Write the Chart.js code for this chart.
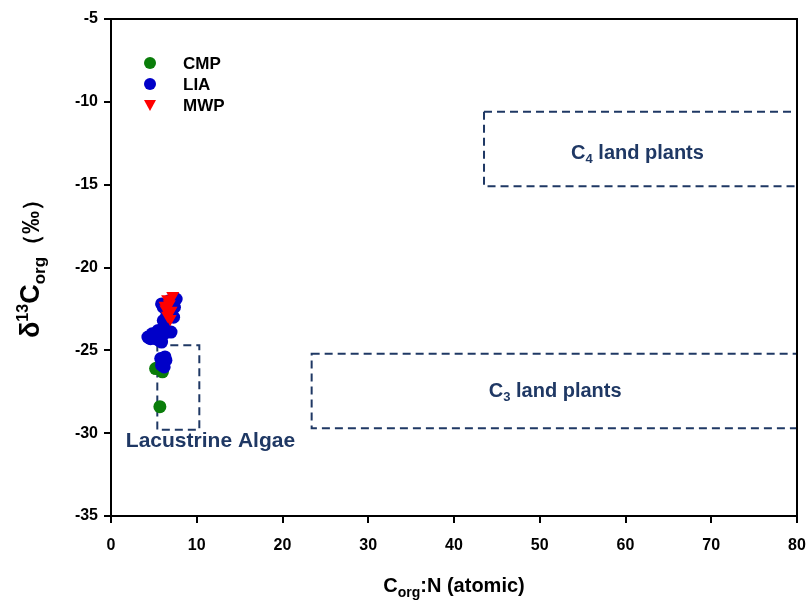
<!DOCTYPE html>
<html lang="en">
<head>
  <meta charset="UTF-8">
  <title>d13C vs C/N</title>
  <script src="https://cdn.jsdelivr.net/npm/chart.js"></script>
  <style>
    html, body { margin: 0; padding: 0; background: #fff; }
    .quadro { width: 808px; height: 603px; }
  </style>
</head>
<body>
  <div class="quadro">
    <canvas id="graficoCN" width="808" height="603"></canvas>
  </div>

  <script>
    // dados: [C/N, d13C]
    const cmp = [[5.7, -28.4], [5.2, -26.1], [6.0, -26.3], [5.6, -26.0]];
    const lia = [
      [5.8, -25.5], [6.4, -25.6], [6.2, -26.0], [5.9, -25.9], [6.3, -25.4],
      [4.3, -24.2], [4.8, -24.0], [5.2, -24.3], [5.6, -24.4], [6.0, -24.1],
      [6.5, -23.9], [7.0, -23.9], [5.5, -23.8], [6.2, -23.6], [5.9, -24.5], [4.6, -24.3],
      [6.1, -23.2], [5.9, -22.2], [6.1, -22.4], [7.6, -21.9], [7.4, -22.4],
      [7.3, -23.0], [6.8, -22.0], [6.5, -22.9]
    ];
    const mwp = [
      [7.2, -21.7], [6.6, -21.9], [6.8, -22.2], [6.4, -22.5], [7.0, -22.6],
      [6.6, -22.9], [6.9, -23.1], [6.3, -22.3]
    ];
    const xTicks = [0, 10, 20, 30, 40, 50, 60, 70, 80];
    const yTicks = [-35, -30, -25, -20, -15, -10, -5];

    // campos de referencia: [xMin, xMax, yMin, yMax]
    const campoC4 = [43.5, 80, -15.1, -10.6];
    const campoC3 = [23.4, 80, -29.7, -25.2];
    const campoAlgas = [5.4, 10.3, -29.8, -24.7];

    const corCaixa = '#1f3864';
    const fonte = 'Arial, "Liberation Sans", sans-serif';

    const pontos = arr => arr.map(p => ({ x: p[0], y: p[1] }));

    // caixas tracejadas, textos, legenda e titulos dos eixos
    const extras = {
      id: 'extras',
      beforeDatasetsDraw(chart) {
        const c = chart.ctx, xs = chart.scales.x, ys = chart.scales.y;
        c.save();
        c.strokeStyle = corCaixa;
        c.lineWidth = 2;
        c.setLineDash([8, 5]);
        [campoC4, campoC3, campoAlgas].forEach(b => {
          const x1 = xs.getPixelForValue(b[0]), x2 = xs.getPixelForValue(b[1]);
          const y1 = ys.getPixelForValue(b[3]), y2 = ys.getPixelForValue(b[2]);
          c.strokeRect(x1, y1, x2 - x1, y2 - y1);
        });
        c.restore();
      },
      afterDraw(chart) {
        const c = chart.ctx, xs = chart.scales.x, ys = chart.scales.y;
        const a = chart.chartArea;
        c.save();

        // moldura superior e direita
        c.strokeStyle = '#000';
        c.lineWidth = 2;
        c.beginPath();
        c.moveTo(a.left, a.top);
        c.lineTo(a.right, a.top);
        c.lineTo(a.right, a.bottom);
        c.stroke();

        // textos dos campos
        c.fillStyle = corCaixa;
        c.textBaseline = 'alphabetic';
        function textoSub(txt1, sub, txt2, cx, cy) {
          c.font = 'bold 20px ' + fonte;
          const w1 = c.measureText(txt1).width;
          const w3 = c.measureText(txt2).width;
          c.font = 'bold 13px ' + fonte;
          const w2 = c.measureText(sub).width;
          let x = cx - (w1 + w2 + w3) / 2;
          c.font = 'bold 20px ' + fonte;
          c.fillText(txt1, x, cy + 7); x += w1;
          c.font = 'bold 13px ' + fonte;
          c.fillText(sub, x, cy + 11); x += w2;
          c.font = 'bold 20px ' + fonte;
          c.fillText(txt2, x, cy + 7);
        }
        textoSub('C', '4', ' land plants', xs.getPixelForValue(61.4), ys.getPixelForValue(-13.0));
        textoSub('C', '3', ' land plants', xs.getPixelForValue(51.8), ys.getPixelForValue(-27.4));
        c.font = 'bold 21px ' + fonte;
        c.textAlign = 'center';
        c.fillText('Lacustrine Algae', xs.getPixelForValue(11.6), ys.getPixelForValue(-30.4) + 7);

        // legenda
        const itens = [
          { nome: 'CMP', cor: '#0a7d0a', forma: 'circle' },
          { nome: 'LIA', cor: '#0000c8', forma: 'circle' },
          { nome: 'MWP', cor: '#ff0000', forma: 'tri' }
        ];
        c.textAlign = 'left';
        c.font = 'bold 17px ' + fonte;
        itens.forEach((it, i) => {
          const px = 150, py = 63 + i * 21;
          c.fillStyle = it.cor;
          c.beginPath();
          if (it.forma === 'circle') {
            c.arc(px, py, 6, 0, Math.PI * 2);
          } else {
            c.moveTo(px - 6, py - 5);
            c.lineTo(px + 6, py - 5);
            c.lineTo(px, py + 6);
            c.closePath();
          }
          c.fill();
          c.fillStyle = '#000';
          c.fillText(it.nome, 183, py + 6);
        });

        // titulo eixo x
        c.fillStyle = '#000';
        const tx = (a.left + a.right) / 2, ty = 592;
        c.font = 'bold 20px ' + fonte;
        const wC = c.measureText('C').width;
        const wR = c.measureText(':N (atomic)').width;
        c.font = 'bold 14px ' + fonte;
        const wO = c.measureText('org').width;
        let x0 = tx - (wC + wO + wR) / 2;
        c.font = 'bold 20px ' + fonte;
        c.fillText('C', x0, ty); x0 += wC;
        c.font = 'bold 14px ' + fonte;
        c.fillText('org', x0, ty + 5); x0 += wO;
        c.font = 'bold 20px ' + fonte;
        c.fillText(':N (atomic)', x0, ty);

        // titulo eixo y
        c.translate(39, 263);
        c.rotate(-Math.PI / 2);
        const partes = [
          { t: 'δ', f: 'bold 27px', dy: 0 },
          { t: '13', f: 'bold 16px', dy: -11 },
          { t: 'C', f: 'bold 27px', dy: 0 },
          { t: 'org', f: 'bold 17px', dy: 6 },
          { t: '（‰）', f: 'bold 23px', dy: 0 }
        ];
        let total = 0;
        partes.forEach(p => { c.font = p.f + ' ' + fonte; p.w = c.measureText(p.t).width; total += p.w; });
        let px = -total / 2;
        partes.forEach(p => {
          c.font = p.f + ' ' + fonte;
          c.fillText(p.t, px, p.dy);
          px += p.w;
        });
        c.restore();
      }
    };

    new Chart(document.getElementById('graficoCN'), {
      type: 'scatter',
      data: {
        datasets: [
          { label: 'CMP', data: pontos(cmp), backgroundColor: '#0a7d0a', borderWidth: 0, pointRadius: 6.5, order: 3 },
          { label: 'LIA', data: pontos(lia), backgroundColor: '#0000c8', borderWidth: 0, pointRadius: 6.5, order: 2 },
          { label: 'MWP', data: pontos(mwp), backgroundColor: '#ff0000', borderWidth: 0, pointRadius: 7.5,
            pointStyle: 'triangle', rotation: 180, order: 1 }
        ]
      },
      options: {
        responsive: false,
        animation: false,
        layout: { padding: { left: 0, top: 19, right: 11, bottom: 0 } },
        plugins: { legend: { display: false }, tooltip: { enabled: false } },
        scales: {
          x: {
            type: 'linear',
            min: 0, max: 80,
            afterBuildTicks: s => { s.ticks = xTicks.map(v => ({ value: v })); },
            afterFit: s => { s.height = 87; s.paddingLeft = 0; s.paddingRight = 0; },
            grid: { drawOnChartArea: false, drawTicks: true, tickLength: 7, color: '#000', lineWidth: 2 },
            border: { display: true, color: '#000', width: 2 },
            ticks: { color: '#000', padding: 13, font: { family: fonte, size: 16, weight: 'bold' } }
          },
          y: {
            type: 'linear',
            min: -35, max: -5,
            afterBuildTicks: s => { s.ticks = yTicks.map(v => ({ value: v })); },
            afterFit: s => { s.width = 111; s.paddingTop = 0; s.paddingBottom = 0; },
            grid: { drawOnChartArea: false, drawTicks: true, tickLength: 7, color: '#000', lineWidth: 2 },
            border: { display: true, color: '#000', width: 2 },
            ticks: { color: '#000', padding: 6, font: { family: fonte, size: 16, weight: 'bold' } }
          }
        }
      },
      plugins: [extras]
    });
  </script>
</body>
</html>
